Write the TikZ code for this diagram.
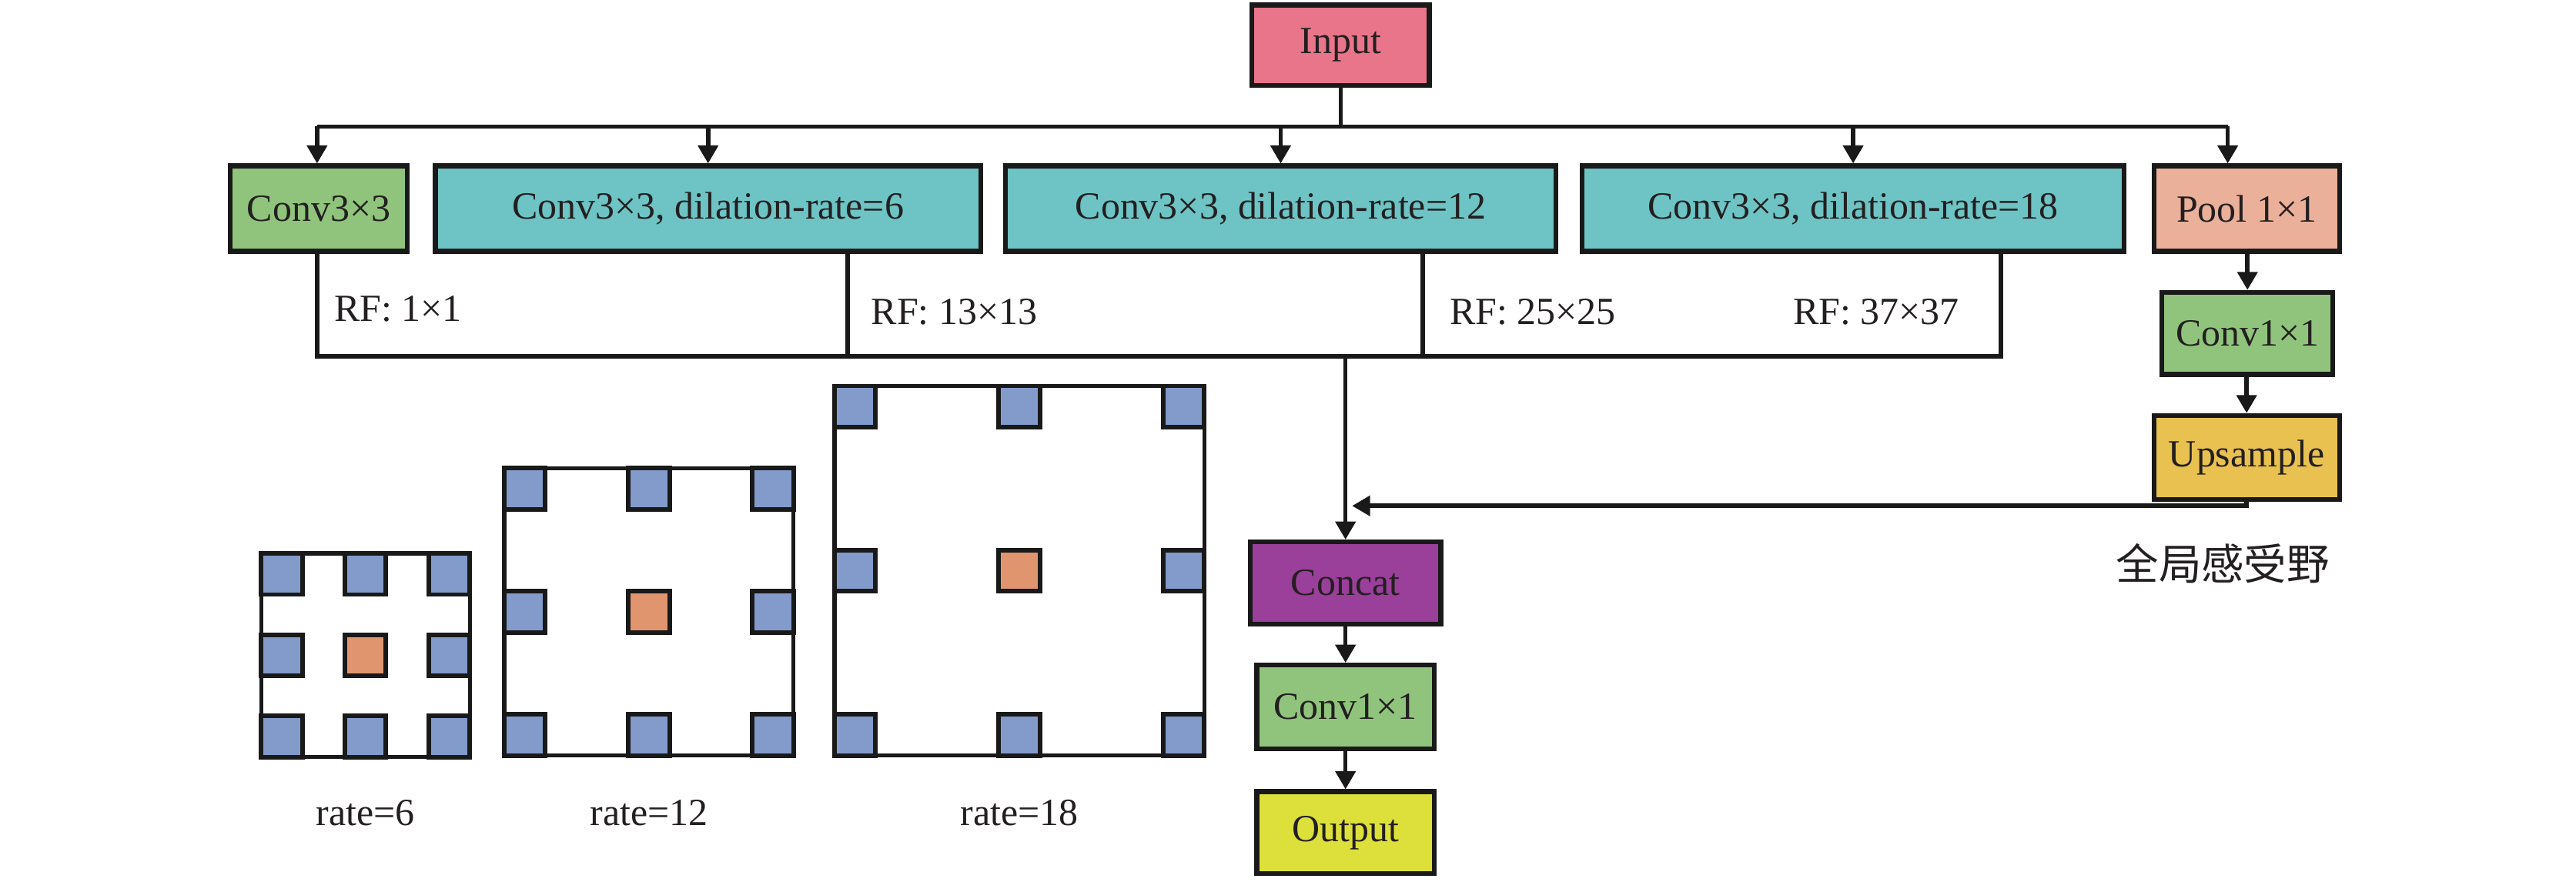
\documentclass[tikz,border=0pt]{standalone}
\usepackage{fontspec}
\setmainfont{Liberation Serif}
\newfontfamily\cjk{Noto Sans CJK SC}
\usetikzlibrary{arrows.meta}
\definecolor{cinput}{HTML}{E8758A}
\definecolor{cgreen}{HTML}{90C47C}
\definecolor{cteal}{HTML}{6EC3C4}
\definecolor{cpool}{HTML}{EAB09A}
\definecolor{cup}{HTML}{E8C150}
\definecolor{cconcat}{HTML}{9A3F9A}
\definecolor{cout}{HTML}{DDE03A}
\definecolor{cblue}{HTML}{829BCB}
\definecolor{corange}{HTML}{E0956F}
\definecolor{ctext}{HTML}{231F20}
\tikzset{
  box/.style={draw=black!90, line width=1.45pt, minimum height=26pt, inner sep=0pt,
    font=\fontsize{11.7}{14}\selectfont, text=ctext},
  conn/.style={line width=1.3pt, black!90},
  arr/.style={conn, -{Triangle[width=6pt,length=5.5pt]}},
  lbl/.style={font=\fontsize{11.7}{14}\selectfont, text=ctext, inner sep=0pt},
  cell/.style={draw=black!90, line width=1.4pt},
  frame/.style={draw=black!90, line width=1.25pt},
}
\begin{document}
\begin{tikzpicture}[x=0.5pt,y=-0.5pt]
\useasboundingbox (0,0) rectangle (1568,537);
% nodes
\node[box, fill=cinput, minimum width=54pt, minimum height=24.5pt] (in) at (816,27.5) {Input};
\node[box, fill=cgreen, minimum width=54pt] (c33) at (194,127) {Conv3×3};
\node[box, fill=cteal, minimum width=166pt] (d6) at (431,127) {Conv3×3, dilation-rate=6};
\node[box, fill=cteal, minimum width=167.5pt] (d12) at (779.5,127) {Conv3×3, dilation-rate=12};
\node[box, fill=cteal, minimum width=165pt] (d18) at (1128,127) {Conv3×3, dilation-rate=18};
\node[box, fill=cpool, minimum width=56.5pt] (pool) at (1367.5,127) {Pool 1×1};
\node[box, fill=cgreen, minimum width=52pt, minimum height=25pt] (c11r) at (1368,203) {Conv1×1};
\node[box, fill=cup, minimum width=56.5pt, minimum height=25.5pt] (up) at (1367.5,278.5) {Upsample};
\node[box, fill=cconcat, minimum width=58pt, minimum height=25pt] (concat) at (819,355) {Concat};
\node[box, fill=cgreen, minimum width=54pt, minimum height=25.5pt] (c11) at (819,430.5) {Conv1×1};
\node[box, fill=cout, minimum width=54pt, minimum height=25pt] (out) at (819,507) {Output};
% top bus
\coordinate (busL) at (193,77);
\coordinate (busR) at (1356,77);
\draw[conn] (in.south) -- (in.south |- busL);
\draw[conn] (busL) -- (busR);
\draw[arr] (busL) -- (busL |- c33.north);
\draw[arr] (d6.north |- busL) -- (d6.north);
\draw[arr] (d12.north |- busL) -- (d12.north);
\draw[arr] (d18.north |- busL) -- (d18.north);
\draw[arr] (busR) -- (busR |- pool.north);
% right column
\draw[arr] (pool.south -| c11r.north) -- (c11r.north);
\draw[arr] (c11r.south) -- (c11r.south -| up.north) -- (up.north);
% lower bus
\coordinate (lbL) at (193,217);
\coordinate (lbR) at (1218,217);
\coordinate (t6) at (516,217);
\coordinate (t12) at (866,217);
\coordinate (mid) at (819,217);
\draw[conn] (lbL |- c33.south) -- (lbL) -- (lbR) -- (lbR |- d18.south);
\draw[conn] (t6) -- (t6 |- d6.south);
\draw[conn] (t12) -- (t12 |- d12.south);
\draw[arr] (mid) -- (concat.north);
\draw[arr] (concat.south) -- (c11.north);
\draw[arr] (c11.south) -- (out.north);
% upsample return
\coordinate (ue) at (823,308);
\draw[arr] (up.south) |- (ue);
% labels
\node[lbl, anchor=west] (rf1) at (203,188) {RF: 1×1};
\node[lbl, anchor=west] (rf13) at (530,190) {RF: 13×13};
\node[lbl, anchor=west] (rf25) at (882,190) {RF: 25×25};
\node[lbl, anchor=west] (rf37) at (1091,190) {RF: 37×37};
\node[lbl, font=\cjk\fontsize{13}{15}\selectfont] (glob) at (1353,343) {全局感受野};
% grids
\def\s{25}
\foreach \x/\y/\W/\H/\nm in {159/337/127/124/rate=6, 307/285/176/175/rate=12, 508/235/225/225/rate=18}{
  \draw[frame] (\x,\y) rectangle ++(\W,\H);
  \foreach \i in {0,1,2}{
    \foreach \j in {0,1,2}{
      \pgfmathsetmacro{\cx}{\x+\i*(\W-\s)/2}
      \pgfmathsetmacro{\cy}{\y+\j*(\H-\s)/2}
      \ifnum\i=1 \ifnum\j=1
        \draw[cell, fill=corange] (\cx,\cy) rectangle ++(\s,\s);
      \else
        \draw[cell, fill=cblue] (\cx,\cy) rectangle ++(\s,\s);
      \fi\else
        \draw[cell, fill=cblue] (\cx,\cy) rectangle ++(\s,\s);
      \fi
    }
  }
  \pgfmathsetmacro{\lx}{\x+\W/2}
  \node[lbl] at (\lx,495) {\nm};
}
\end{tikzpicture}
\end{document}
